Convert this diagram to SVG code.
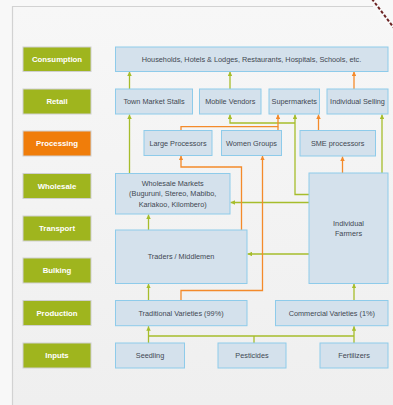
<svg xmlns="http://www.w3.org/2000/svg" width="393" height="405" viewBox="0 0 393 405">
<defs>
<linearGradient id="bg" x1="0" y1="0" x2="0" y2="1">
<stop offset="0" stop-color="#f7f7f7"/>
<stop offset="1" stop-color="#efefef"/>
</linearGradient>
<marker id="ag" viewBox="0 0 6 6" refX="6" refY="3" markerWidth="4.5" markerHeight="4.5" markerUnits="userSpaceOnUse" orient="auto"><path d="M0,0 L6,3 L0,6 z" fill="#a6bd2b"/></marker>
<marker id="ao" viewBox="0 0 6 6" refX="6" refY="3" markerWidth="4.5" markerHeight="4.5" markerUnits="userSpaceOnUse" orient="auto"><path d="M0,0 L6,3 L0,6 z" fill="#f48a2a"/></marker>
</defs>
<style>
.lab{stroke:#cfcfcf;stroke-width:1}
.lg{fill:#9fb51e}
.lo{fill:#f07d0a}
.lt{font-family:"Liberation Sans",Arial,sans-serif;font-weight:bold;font-size:7.8px;fill:#ffffff;text-anchor:middle;dominant-baseline:central}
.nb{fill:#d4e1ec;stroke:#8ecbea;stroke-width:1}
.nt{font-family:"Liberation Sans",Arial,sans-serif;font-size:7.3px;fill:#3f4852;text-anchor:middle;dominant-baseline:central}
.g{fill:none;stroke:#a6bd2b;stroke-width:1.3}
.o{fill:none;stroke:#f48a2a;stroke-width:1.3}
.ga{marker-end:url(#ag)}
.oa{marker-end:url(#ao)}
</style>
<rect x="0" y="0" width="393" height="405" fill="#f8f8f8"/>
<path d="M12.5,405 V6.5 H373 L393,33 V405 Z" fill="url(#bg)"/>
<path d="M12.5,405 V6.5 H373" fill="none" stroke="#d2d2d2" stroke-width="1.2"/>
<path d="M372,-1 L394,28" fill="none" stroke="#6b2222" stroke-width="2" stroke-dasharray="3,2"/>

<g id="layer-labels">
<g id="lbl-consumption"><rect class="lab lg" x="23" y="47" width="68" height="24.5"/><text class="lt" x="57" y="59.3">Consumption</text></g>
<g id="lbl-retail"><rect class="lab lg" x="23" y="89" width="68" height="25"/><text class="lt" x="57" y="101.5">Retail</text></g>
<g id="lbl-processing"><rect class="lab lo" x="23" y="131" width="68" height="25"/><text class="lt" x="57" y="143.5">Processing</text></g>
<g id="lbl-wholesale"><rect class="lab lg" x="23" y="173.5" width="68" height="25"/><text class="lt" x="57" y="186">Wholesale</text></g>
<g id="lbl-transport"><rect class="lab lg" x="23" y="216" width="68" height="25"/><text class="lt" x="57" y="228.5">Transport</text></g>
<g id="lbl-bulking"><rect class="lab lg" x="23" y="258" width="68" height="25"/><text class="lt" x="57" y="270.5">Bulking</text></g>
<g id="lbl-production"><rect class="lab lg" x="23" y="300.5" width="68" height="25"/><text class="lt" x="57" y="313">Production</text></g>
<g id="lbl-inputs"><rect class="lab lg" x="23" y="343" width="68" height="25"/><text class="lt" x="57" y="355.5">Inputs</text></g>
</g>

<g id="connectors">
<path class="g ga" d="M129.5,89 V71.5"/>
<path class="g ga" d="M129.5,173 V114.5"/>
<path class="g ga" d="M230,89 V71.5"/>
<path class="g ga" d="M309,194.5 H295 V114.5"/>
<path class="g ga" d="M295,123 H230 V114.5"/>
<path class="g ga" d="M382,173 V114.5"/>
<path class="g ga" d="M309,202.5 H230.5"/>
<path class="g ga" d="M309,254 H247.5"/>
<path class="g ga" d="M148.5,230 V214.5"/>
<path class="g ga" d="M148.5,300.5 V283.8"/>
<path class="g ga" d="M354,300 V283.8"/>
<path class="g ga" d="M148.5,343 V326.2"/>
<path class="g" d="M148.5,336 H354"/>
<path class="g" d="M254,343 V336"/>
<path class="g ga" d="M354,343 V326.2"/>
<path class="o oa" d="M354,89 V71.5"/>
<path class="o oa" d="M318.5,130.5 V114.5"/>
<path class="o oa" d="M342.5,173 V156.5"/>
<path class="o oa" d="M181,130.5 V126.7 H278 V114.5"/>
<path class="o" d="M278,130.5 V126.7"/>
<path class="o oa" d="M241.5,230 V167 H181 V155.8"/>
<path class="o oa" d="M181,300.5 V290.5 H262.5 V155.8"/>
</g>

<g id="n-households"><rect class="nb" x="115.5" y="47" width="272.5" height="24.5"/><text class="nt" x="251.5" y="59.3">Households, Hotels &amp; Lodges, Restaurants, Hospitals, Schools, etc.</text></g>
<g id="n-town"><rect class="nb" x="115.5" y="89" width="77" height="25"/><text class="nt" x="154" y="101.5">Town Market Stalls</text></g>
<g id="n-mobile"><rect class="nb" x="199.5" y="89" width="61.5" height="25"/><text class="nt" x="230.3" y="101.5">Mobile Vendors</text></g>
<g id="n-super"><rect class="nb" x="269" y="89" width="50.5" height="25"/><text class="nt" x="294.3" y="101.5">Supermarkets</text></g>
<g id="n-indsell"><rect class="nb" x="327" y="89" width="61" height="25"/><text class="nt" x="357.5" y="101.5">Individual Selling</text></g>
<g id="n-large"><rect class="nb" x="144" y="130.5" width="68" height="25"/><text class="nt" x="178" y="143">Large Processors</text></g>
<g id="n-women"><rect class="nb" x="221.5" y="130.5" width="60" height="25"/><text class="nt" x="251.5" y="143">Women Groups</text></g>
<g id="n-sme"><rect class="nb" x="300" y="130.5" width="75.5" height="25.5"/><text class="nt" x="337.7" y="143.3">SME processors</text></g>
<g id="n-wholesale"><rect class="nb" x="115.5" y="173.5" width="114.5" height="40.5"/><text class="nt" x="172.7" y="183">Wholesale Markets</text><text class="nt" x="172.7" y="193.6">(Buguruni, Stereo, Mabibo,</text><text class="nt" x="172.7" y="204.2">Kariakoo, Kilombero)</text></g>
<g id="n-farmers"><rect class="nb" x="309" y="173" width="79" height="110.5"/><text class="nt" x="348.5" y="223">Individual</text><text class="nt" x="348.5" y="233.3">Farmers</text></g>
<g id="n-traders"><rect class="nb" x="115.5" y="230" width="131.5" height="53.5"/><text class="nt" x="181" y="256.8">Traders / Middlemen</text></g>
<g id="n-traditional"><rect class="nb" x="115.5" y="300.5" width="131.5" height="25.2"/><text class="nt" x="181" y="313.2">Traditional Varieties (99%)</text></g>
<g id="n-commercial"><rect class="nb" x="275.5" y="300.5" width="112.5" height="25.2"/><text class="nt" x="331.8" y="313.2">Commercial Varieties (1%)</text></g>
<g id="n-seedling"><rect class="nb" x="115.5" y="343" width="69" height="25"/><text class="nt" x="150" y="355.5">Seedling</text></g>
<g id="n-pesticides"><rect class="nb" x="218" y="343" width="68" height="25"/><text class="nt" x="252" y="355.5">Pesticides</text></g>
<g id="n-fertilizers"><rect class="nb" x="320" y="343" width="68" height="25"/><text class="nt" x="354" y="355.5">Fertilizers</text></g>
</svg>
